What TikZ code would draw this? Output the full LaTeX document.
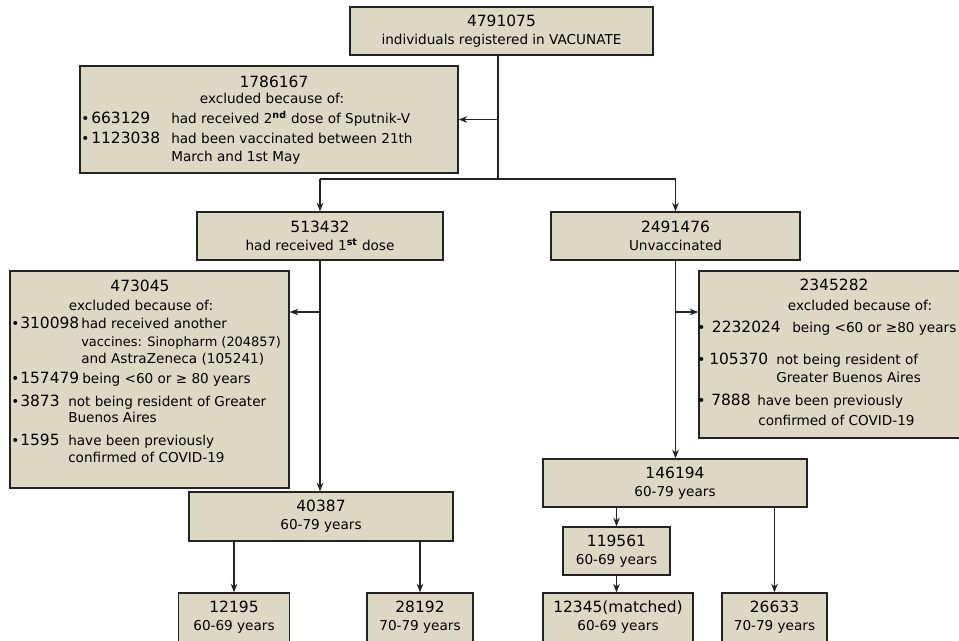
\documentclass[tikz,border=0pt]{standalone}
\usepackage{fontspec}
\setmainfont{DejaVu Sans}
\usetikzlibrary{arrows.meta}
\usetikzlibrary{calc}
\definecolor{boxfill}{RGB}{221,216,196}
\definecolor{linecol}{RGB}{35,35,35}
\newcommand{\numf}[1]{{\fontsize{11.6pt}{14pt}\selectfont #1}}
\tikzstyle{box}=[rectangle,draw=linecol,fill=boxfill,line width=1pt,inner sep=0pt,align=center,font=\fontsize{10.2pt}{13.5pt}\selectfont]
\tikzstyle{txt}=[inner sep=0pt,font=\fontsize{10.2pt}{13.5pt}\selectfont]
\tikzstyle{edge}=[draw=linecol,line width=0.9pt,-{Stealth[length=6.5pt,width=5pt]}]
\tikzstyle{joinline}=[draw=linecol,line width=0.9pt]

\begin{document}
\begin{tikzpicture}[x=0.75pt,y=-0.75pt]

  \def\pxl{0.75pt}
  \useasboundingbox (0,0) rectangle (959,640);
  \clip (0,0) rectangle (959,640);

  % count boxes
  \foreach \x/\y/\w/\h/\name/\label in {501.5/31/303/48/reg/{\numf{4791075}\\individuals registered in VACUNATE},
        320/236/246/48/dose1/{\numf{513432}\\had received 1\textsuperscript{\textbf{st}} dose},
        675.5/236/249/48/unvac/{\numf{2491476}\\Unvaccinated},
        321/516.5/264/49/old1/{\numf{40387}\\60-79 years},
        675/483/264/48/unvold/{\numf{146194}\\60-79 years},
        616.5/551/107/48/u6069/{\numf{119561}\\60-69 years},
        234/617.5/111/49/a6069/{\numf{12195}\\60-69 years},
        420/617.5/106/49/a7079/{\numf{28192}\\70-79 years},
        618/617.5/150/49/matched/{\numf{12345(matched)}\\60-69 years},
        774.5/617.5/105/49/u7079/{\numf{26633}\\70-79 years}}
     \node[box,minimum width=\w*\pxl,minimum height=\h*\pxl] (\name) at (\x,\y) {\label};

  % exclusion boxes
  \foreach \x/\y/\w/\h/\name in {269/119.5/378/107/excl1, 149.5/379.5/279/217/excl2, 860/354.5/322/167/excl3}
     \node[box,minimum width=\w*\pxl,minimum height=\h*\pxl] (\name) at (\x,\y) {};

  \foreach \x/\y/\name/\label in {274/87/h1/{\numf{1786167}}, 272/103/h1b/{excluded because of:},
        140/291/h2/{\numf{473045}}, 141/310/h2b/{excluded because of:},
        834/290/h3/{\numf{2345282}}, 860/310/h3b/{excluded because of:}}
     \node[txt,anchor=base] (\name) at (\x,\y) {\label};

  \foreach \x/\y/\g/\name/\label in {85/123/1.5/n11/663129, 85/143/1.5/n12/1123038,
        15/328/0.75/n21/310098, 15/383/0.75/n22/157479, 15/406/0.75/n23/3873, 15/445/0.75/n24/1595,
        701/332/5/n31/2232024, 701/364/3/n32/105370, 701/405/4.5/n33/7888}
     \node[txt,anchor=base west] (\name) at (\x-4,\y) {•\hspace{\g pt}\numf{\label}};

  \foreach \x/\y/\name/\label in {171/123/t11/{had received 2\textsuperscript{\textbf{nd}} dose of Sputnik-V},
        171/143/t12/{had been vaccinated between 21th}, 171/161/t12b/{March and 1st May},
        81/328/t21/{had received another}, 81/346/t21b/{\fontsize{9.7pt}{13pt}\selectfont vaccines: Sinopharm (204857)},
        81/363/t21c/{and AstraZeneca (105241)}, 82/383/t22/{being <60 or ≥ 80 years},
        68/406/t23/{not being resident of Greater}, 68/422/t23b/{Buenos Aires},
        68/445/t24/{have been previously}, 68/462/t24b/{confirmed of COVID-19},
        792/332/t31/{being <60 or ≥80 years}, 776/364/t32/{not being resident of},
        776/382/t32b/{Greater Buenos Aires}, 757/405/t33/{have been previously},
        758/425/t33b/{confirmed of COVID-19}}
     \node[txt,anchor=base west] (\name) at (\x,\y) {\label};

  % connectors
  \coordinate (j1) at (498,179);
  \coordinate (b2) at (320,312);
  \coordinate (b3) at (676,312);

  \path[joinline] (j1 |- reg.south) -- (j1);
  \path[joinline] (dose1.north |- j1) -- (unvac.north |- j1);

  \foreach \source/\dest in {j1 |- excl1.east/excl1.east, dose1.north |- j1/dose1.north, unvac.north |- j1/unvac.north,
        dose1.south/dose1.south |- old1.north, b2/b2 -| excl2.east,
        unvac.south/unvac.south |- unvold.north, b3/b3 -| excl3.west,
        a6069.north |- old1.south/a6069.north, a7079.north |- old1.south/a7079.north,
        u6069.north |- unvold.south/u6069.north, u6069.south/u6069.south |- matched.north,
        u7079.north |- unvold.south/u7079.north}
     \path[edge] (\source) -- (\dest);

\end{tikzpicture}
\end{document}
